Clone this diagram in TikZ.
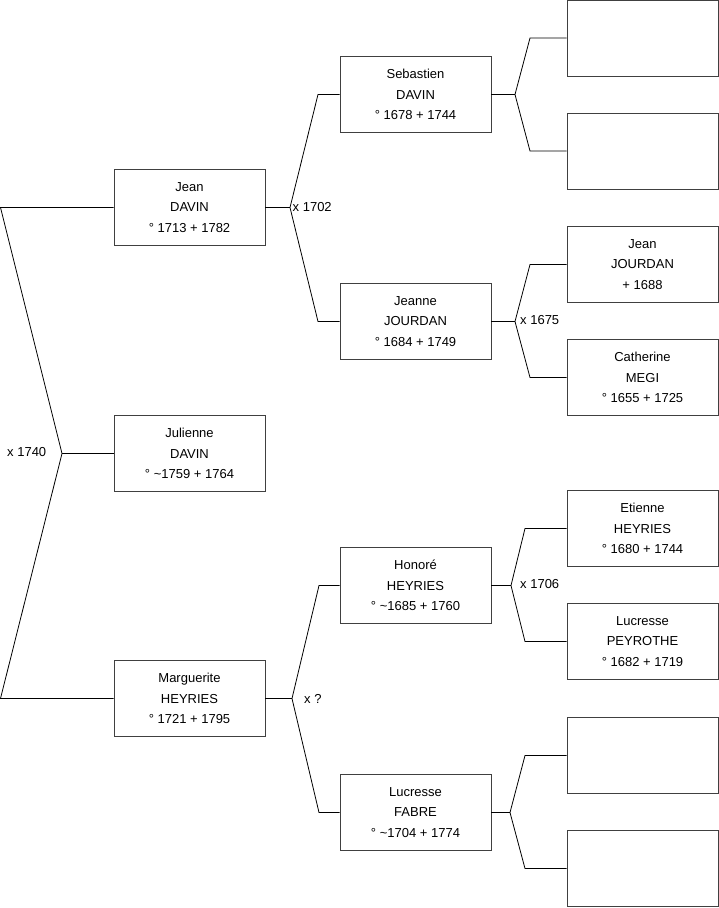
\documentclass[tikz,border=0pt]{standalone}
\usepackage{fontspec}
\setmainfont{Liberation Sans}
\begin{document}
\begin{tikzpicture}[x=1pt,y=-1pt,
  person/.style={draw=black!75,line width=0.9pt,minimum width=151pt,minimum height=76pt,inner sep=0pt,align=center,font=\fontsize{13}{20.5}\selectfont},
  conn/.style={draw=black,line width=0.8pt},
  lbl/.style={anchor=west,inner sep=0pt,font=\fontsize{13}{15}\selectfont}]
\useasboundingbox (0,0) rectangle (719,908);
% generation 1
\node[person] (jean) at (189.5,207.5) {Jean\\DAVIN\\° 1713 + 1782};
\node[person] (jul) at (189.5,453.5) {Julienne\\DAVIN\\° \textasciitilde1759 + 1764};
\node[person] (marg) at (189.5,698.5) {Marguerite\\HEYRIES\\° 1721 + 1795};
% generation 2
\node[person] (seb) at (415.5,94.5) {Sebastien\\DAVIN\\° 1678 + 1744};
\node[person] (jeanne) at (415.5,321.5) {Jeanne\\JOURDAN\\° 1684 + 1749};
\node[person] (hon) at (415.5,585.5) {Honoré\\HEYRIES\\° \textasciitilde1685 + 1760};
\node[person] (fab) at (415.5,812.5) {Lucresse\\FABRE\\° \textasciitilde1704 + 1774};
% generation 3
\node[person] (g1) at (642.5,38) {};
\node[person] (g2) at (642.5,151) {};
\node[person] (g3) at (642.5,264.5) {Jean\\JOURDAN\\+ 1688};
\node[person] (g4) at (642.5,377.5) {Catherine\\MEGI\\° 1655 + 1725};
\node[person] (g5) at (642.5,528.5) {Etienne\\HEYRIES\\° 1680 + 1744};
\node[person] (g6) at (642.5,641.5) {Lucresse\\PEYROTHE\\° 1682 + 1719};
\node[person] (g7) at (642.5,755.5) {};
\node[person] (g8) at (642.5,868.5) {};
% root fork
\coordinate (rt) at (0.5,207.5);
\coordinate (rj) at (62,453.5);
\coordinate (rb) at (0.5,698.5);
\draw[conn] (jean.west) -- (rt) -- (rj) -- (rb) -- (marg.west);
\draw[conn] (rj) -- (jul.west);
\node[lbl] (l1740) at (7,452) {x 1740};
% Jean fork
\coordinate (ja) at (290,207.5);
\coordinate (jt) at (318,94.5);
\coordinate (jb) at (318,321.5);
\draw[conn] (jean.east) -- (ja);
\draw[conn] (seb.west) -- (jt) -- (ja) -- (jb) -- (jeanne.west);
\node[lbl] (l1702) at (292.5,207.5) {x 1702};
% Marguerite fork
\coordinate (ma) at (292,698.5);
\coordinate (mt) at (319,585.5);
\coordinate (mb) at (319,812.5);
\draw[conn] (marg.east) -- (ma);
\draw[conn] (hon.west) -- (mt) -- (ma) -- (mb) -- (fab.west);
\node[lbl] (lq) at (304,698.5) {x ?};
% Sebastien fork
\coordinate (sa) at (515,94.5);
\coordinate (st) at (530,38);
\coordinate (sb) at (530,151);
\draw[conn] (seb.east) -- (sa);
\draw[conn] (g1.west) -- (st) -- (sa) -- (sb) -- (g2.west);
% Jeanne fork
\coordinate (na) at (515,321.5);
\coordinate (nt) at (530,264.5);
\coordinate (nb) at (530,377.5);
\draw[conn] (jeanne.east) -- (na);
\draw[conn] (g3.west) -- (nt) -- (na) -- (nb) -- (g4.west);
\node[lbl] (l1675) at (520,320.5) {x 1675};
% Honore fork
\coordinate (ha) at (511,585.5);
\coordinate (ht) at (525,528.5);
\coordinate (hb) at (525,641.5);
\draw[conn] (hon.east) -- (ha);
\draw[conn] (g5.west) -- (ht) -- (ha) -- (hb) -- (g6.west);
\node[lbl] (l1706) at (520,584) {x 1706};
% Fabre fork
\coordinate (fa) at (510,812.5);
\coordinate (ft) at (525,755.5);
\coordinate (fb) at (525,868.5);
\draw[conn] (fab.east) -- (fa);
\draw[conn] (g7.west) -- (ft) -- (fa) -- (fb) -- (g8.west);
\end{tikzpicture}
\end{document}
